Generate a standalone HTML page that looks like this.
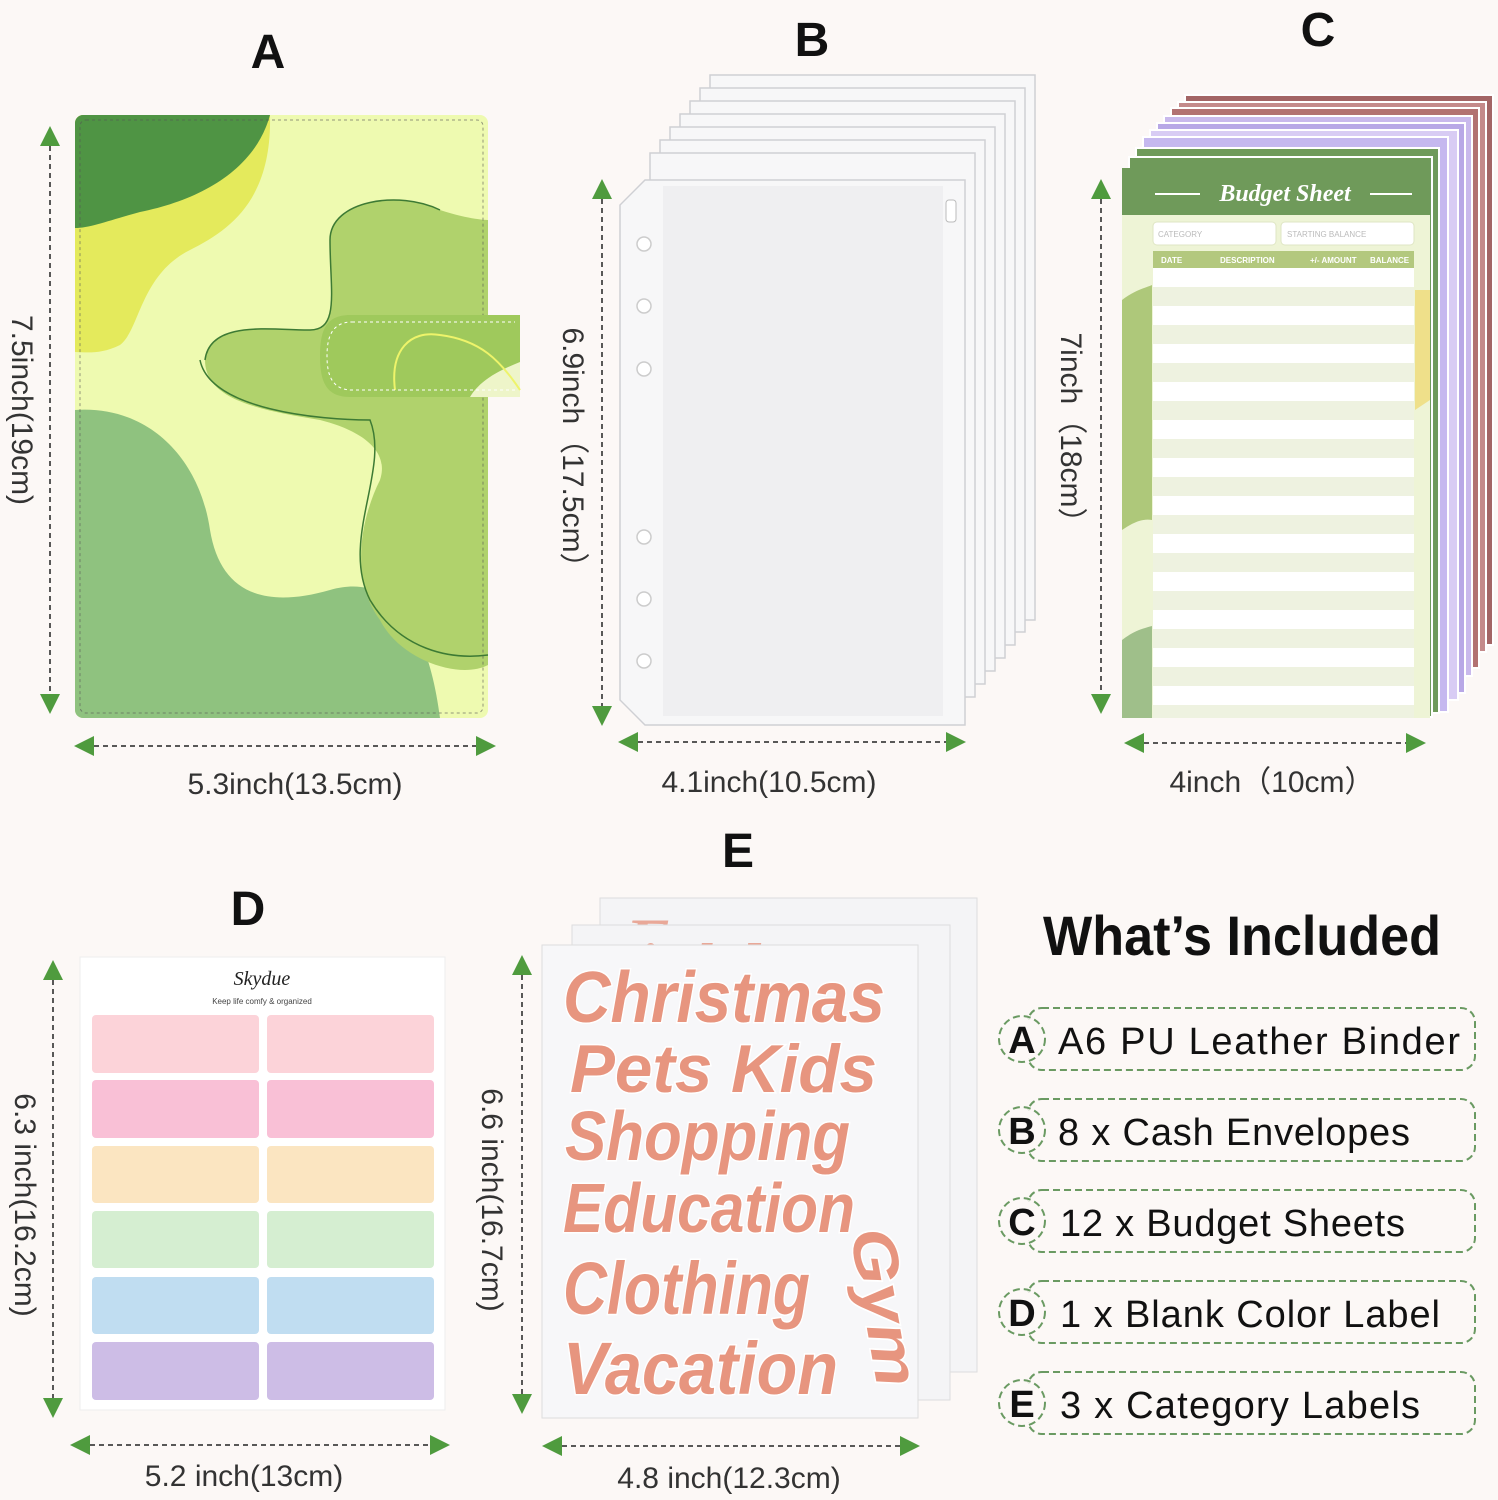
<!DOCTYPE html>
<html><head><meta charset="utf-8"><style>
html,body{margin:0;padding:0;background:#fcf8f6;}
svg{display:block}
text{font-family:"Liberation Sans",sans-serif;}
</style></head><body>
<svg width="1498" height="1500" viewBox="0 0 1498 1500" xmlns="http://www.w3.org/2000/svg">
<defs>
<marker id="ar" viewBox="0 0 10 10" refX="9" refY="5" markerWidth="26" markerHeight="20" markerUnits="userSpaceOnUse" orient="auto-start-reverse"><path d="M0,0 L10,5 L0,10 z" fill="#4f9b3e"/></marker>
<clipPath id="ce1"><rect x="600" y="898" width="377" height="27"/></clipPath>
<clipPath id="ce2"><rect x="572" y="925" width="378" height="20"/></clipPath>
</defs>
<rect width="1498" height="1500" fill="#fcf8f6"/>

<!-- titles -->
<g font-weight="bold" font-size="48" text-anchor="middle" fill="#111">
<text x="268" y="68">A</text><text x="812" y="56">B</text><text x="1318" y="46">C</text>
<text x="248" y="925">D</text><text x="738" y="867">E</text></g>

<!-- A binder -->
<rect x="75" y="115" width="413" height="603" rx="8" fill="#eefab0"/>
<clipPath id="ca"><rect x="75" y="115" width="413" height="603" rx="8"/></clipPath>
<g clip-path="url(#ca)">
<path d="M75,115 L270,115 C272,200 230,230 190,250 C140,275 140,330 120,345 C100,355 85,352 75,352 Z" fill="#e4ea5c"/>
<path d="M75,115 L270,115 C255,170 200,200 140,212 C110,220 90,228 75,228 Z" fill="#4f9444"/>
<path d="M75,410 C150,405 200,460 210,530 C220,590 260,610 330,590 C400,570 430,640 440,718 L75,718 Z" fill="#8fc27f"/>
<path d="M205,360 C210,320 270,330 310,330 C340,330 330,290 330,240 C330,200 400,190 440,210 C470,220 488,220 488,220 L488,665 C460,680 400,660 380,620 C350,580 360,520 380,480 C390,450 360,430 320,420 C260,410 205,400 205,360 Z" fill="#b0d26c"/>
<path d="M205,360 C210,320 270,330 310,330 C340,330 330,290 330,240 C330,200 400,190 440,210" fill="none" stroke="#3d7a34" stroke-width="1.5"/>
<path d="M200,360 C210,410 320,420 370,420 C390,470 340,540 370,600 C400,650 450,660 488,655" fill="none" stroke="#3d7a34" stroke-width="1.5"/>
</g>
<rect x="80" y="120" width="403" height="593" rx="6" fill="none" stroke="#555" stroke-width="1" stroke-dasharray="3,3" opacity="0.6"/>
<path d="M350,315 L520,315 L520,397 L350,397 C325,397 320,380 320,356 C320,332 325,315 350,315 Z" fill="#9fc95c"/>
<path d="M470,397 C480,380 500,370 520,362 L520,397 Z" fill="#eef5c9"/>
<path d="M395,390 C390,350 410,330 440,335 C480,340 500,360 520,390" fill="none" stroke="#eef46a" stroke-width="2"/>
<path d="M352,322 L515,322 M515,390 L352,390 C332,390 327,375 327,356 C327,337 332,322 352,322" fill="none" stroke="#fff" stroke-width="1" stroke-dasharray="3,3"/>

<line x1="50" y1="128" x2="50" y2="712" stroke="#222" stroke-width="1.5" stroke-dasharray="5,4" marker-start="url(#ar)" marker-end="url(#ar)"/>
<line x1="76" y1="746" x2="494" y2="746" stroke="#222" stroke-width="1.5" stroke-dasharray="5,4" marker-start="url(#ar)" marker-end="url(#ar)"/>
<text transform="translate(12,410) rotate(90)" font-size="30" text-anchor="middle" fill="#333">7.5inch(19cm)</text>
<text x="295" y="794" font-size="30" text-anchor="middle" fill="#333">5.3inch(13.5cm)</text>

<!-- B envelopes -->
<g fill="#f7f7f8" stroke="#cfd0d4" stroke-width="1.5">
<path d="M710,75 L1035,75 L1035,620 L710,620 Z"/>
<path d="M700,88 L1025,88 L1025,632 L700,632 Z"/>
<path d="M690,101 L1015,101 L1015,645 L690,645 Z"/>
<path d="M680,114 L1005,114 L1005,658 L680,658 Z"/>
<path d="M670,127 L995,127 L995,671 L670,671 Z"/>
<path d="M660,140 L985,140 L985,684 L660,684 Z"/>
<path d="M650,153 L975,153 L975,697 L650,697 Z"/>
<path d="M645,180 L965,180 L965,725 L645,725 L620,700 L620,205 Z"/>
</g>
<rect x="663" y="186" width="280" height="530" fill="#efeff1"/>
<g fill="#fff" stroke="#ccc" stroke-width="1.5">
<circle cx="644" cy="244" r="7"/><circle cx="644" cy="306" r="7"/><circle cx="644" cy="369" r="7"/>
<circle cx="644" cy="537" r="7"/><circle cx="644" cy="599" r="7"/><circle cx="644" cy="661" r="7"/></g>
<rect x="946" y="200" width="10" height="22" rx="3" fill="#fff" stroke="#bbb"/>
<line x1="602" y1="181" x2="602" y2="724" stroke="#222" stroke-width="1.5" stroke-dasharray="5,4" marker-start="url(#ar)" marker-end="url(#ar)"/>
<line x1="620" y1="742" x2="964" y2="742" stroke="#222" stroke-width="1.5" stroke-dasharray="5,4" marker-start="url(#ar)" marker-end="url(#ar)"/>
<text transform="translate(563,455) rotate(90)" font-size="30" text-anchor="middle" fill="#333">6.9inch（17.5cm）</text>
<text x="769" y="792" font-size="30" text-anchor="middle" fill="#333">4.1inch(10.5cm)</text>

<!-- C budget sheets -->
<g stroke="#fff" stroke-width="2">
<rect x="1185" y="95" width="308" height="550" fill="#a36565"/>
<rect x="1178" y="102" width="308" height="550" fill="#c48a8a"/>
<rect x="1171" y="108" width="308" height="560" fill="#b27272"/>
<rect x="1164" y="116" width="308" height="560" fill="#c9b9ec"/>
<rect x="1157" y="123" width="308" height="570" fill="#b8a8e6"/>
<rect x="1150" y="130" width="308" height="570" fill="#d8ccf4"/>
<rect x="1143" y="137" width="305" height="575" fill="#c5b8ef"/>
<rect x="1136" y="148" width="303" height="565" fill="#6f9a5a"/>
<rect x="1129" y="157" width="303" height="560" fill="#6f9a5a"/>
</g>
<rect x="1122" y="168" width="308" height="550" fill="#eef4d6"/>
<rect x="1122" y="168" width="308" height="47" fill="#6f9a5a"/>
<path d="M1122,300 C1135,290 1145,288 1152,285 L1152,520 C1140,518 1130,525 1122,530 Z" fill="#aec87a"/>
<path d="M1122,640 C1135,630 1145,628 1152,626 L1152,718 L1122,718 Z" fill="#9fbf8a"/>
<path d="M1415,290 L1430,290 L1430,400 L1415,410 Z" fill="#efe08a"/>
<line x1="1155" y1="194" x2="1200" y2="194" stroke="#fff" stroke-width="2"/>
<line x1="1370" y1="194" x2="1412" y2="194" stroke="#fff" stroke-width="2"/>
<text x="1285" y="201" font-family="Liberation Serif,serif" font-style="italic" font-weight="bold" font-size="24" text-anchor="middle" fill="#fff" style="font-family:'Liberation Serif',serif">Budget Sheet</text>
<rect x="1153" y="222" width="123" height="23" rx="4" fill="#fff" stroke="#dfe6c4"/>
<rect x="1281" y="222" width="133" height="23" rx="4" fill="#fff" stroke="#dfe6c4"/>
<text x="1158" y="237" font-size="8" fill="#bbb">CATEGORY</text>
<text x="1287" y="237" font-size="8" fill="#bbb">STARTING BALANCE</text>
<rect x="1153" y="251" width="261" height="17" fill="#b3c87e"/>
<text x="1161" y="263" font-size="8" font-weight="bold" fill="#fff">DATE</text>
<text x="1220" y="263" font-size="8" font-weight="bold" fill="#fff">DESCRIPTION</text>
<text x="1310" y="263" font-size="8" font-weight="bold" fill="#fff">+/- AMOUNT</text>
<text x="1370" y="263" font-size="8" font-weight="bold" fill="#fff">BALANCE</text>
<rect x="1153" y="268" width="261" height="450" fill="#fff"/>
<g fill="#eef2e0">
<rect x="1153" y="287" width="261" height="19"/><rect x="1153" y="325" width="261" height="19"/><rect x="1153" y="363" width="261" height="19"/><rect x="1153" y="401" width="261" height="19"/><rect x="1153" y="439" width="261" height="19"/><rect x="1153" y="477" width="261" height="19"/><rect x="1153" y="515" width="261" height="19"/><rect x="1153" y="553" width="261" height="19"/><rect x="1153" y="591" width="261" height="19"/><rect x="1153" y="629" width="261" height="19"/><rect x="1153" y="667" width="261" height="19"/><rect x="1153" y="705" width="261" height="13"/></g>
<line x1="1101" y1="181" x2="1101" y2="712" stroke="#222" stroke-width="1.5" stroke-dasharray="5,4" marker-start="url(#ar)" marker-end="url(#ar)"/>
<line x1="1126" y1="743" x2="1424" y2="743" stroke="#222" stroke-width="1.5" stroke-dasharray="5,4" marker-start="url(#ar)" marker-end="url(#ar)"/>
<text transform="translate(1061,435) rotate(90)" font-size="30" text-anchor="middle" fill="#333">7inch（18cm）</text>
<text x="1272" y="792" font-size="30" text-anchor="middle" fill="#333">4inch（10cm）</text>

<!-- D labels -->
<rect x="80" y="957" width="365" height="453" fill="#fff" stroke="#eee"/>
<text x="262" y="985" font-style="italic" font-size="20" text-anchor="middle" fill="#222" style="font-family:'Liberation Serif',serif">Skydue</text>
<text x="262" y="1004" font-size="8" text-anchor="middle" fill="#444">Keep life comfy &amp; organized</text>
<g>
<rect x="92" y="1015" width="167" height="58" rx="4" fill="#fcd3d9"/><rect x="267" y="1015" width="167" height="58" rx="4" fill="#fcd3d9"/>
<rect x="92" y="1080" width="167" height="58" rx="4" fill="#f9c0d6"/><rect x="267" y="1080" width="167" height="58" rx="4" fill="#f9c0d6"/>
<rect x="92" y="1146" width="167" height="57" rx="4" fill="#fbe5c1"/><rect x="267" y="1146" width="167" height="57" rx="4" fill="#fbe5c1"/>
<rect x="92" y="1211" width="167" height="57" rx="4" fill="#d5eed1"/><rect x="267" y="1211" width="167" height="57" rx="4" fill="#d5eed1"/>
<rect x="92" y="1277" width="167" height="57" rx="4" fill="#c0ddf1"/><rect x="267" y="1277" width="167" height="57" rx="4" fill="#c0ddf1"/>
<rect x="92" y="1342" width="167" height="58" rx="4" fill="#cdbde6"/><rect x="267" y="1342" width="167" height="58" rx="4" fill="#cdbde6"/>
</g>
<line x1="53" y1="962" x2="53" y2="1416" stroke="#222" stroke-width="1.5" stroke-dasharray="5,4" marker-start="url(#ar)" marker-end="url(#ar)"/>
<line x1="72" y1="1445" x2="448" y2="1445" stroke="#222" stroke-width="1.5" stroke-dasharray="5,4" marker-start="url(#ar)" marker-end="url(#ar)"/>
<text transform="translate(15,1205) rotate(90)" font-size="30" text-anchor="middle" fill="#333">6.3 inch(16.2cm)</text>
<text x="244" y="1486" font-size="30" text-anchor="middle" fill="#333">5.2 inch(13cm)</text>

<!-- E stickers -->
<rect x="600" y="898" width="377" height="474" fill="#f4f4f6" stroke="#ddd"/>
<text x="625" y="960" font-style="italic" font-weight="bold" font-size="60" fill="#e9a898" clip-path="url(#ce1)" textLength="325" lengthAdjust="spacingAndGlyphs" style="font-family:'Liberation Serif',serif">Emergency</text>
<rect x="572" y="925" width="378" height="475" fill="#f4f4f6" stroke="#ddd"/>
<text x="598" y="985" font-style="italic" font-weight="bold" font-size="60" fill="#e9a898" clip-path="url(#ce2)" textLength="220" lengthAdjust="spacingAndGlyphs" style="font-family:'Liberation Serif',serif">Birthday</text>
<rect x="542" y="945" width="376" height="473" fill="#f7f7f9" stroke="#ddd"/>
<g font-style="italic" font-weight="bold" fill="#e7957f" stroke="#fff" stroke-width="3" paint-order="stroke" style="font-family:'Liberation Serif',serif" lengthAdjust="spacingAndGlyphs">
<text x="563" y="1022" font-size="72" textLength="322" lengthAdjust="spacingAndGlyphs">Christmas</text>
<text x="570" y="1092" font-size="68" textLength="307" lengthAdjust="spacingAndGlyphs">Pets Kids</text>
<text x="565" y="1160" font-size="70" textLength="285" lengthAdjust="spacingAndGlyphs">Shopping</text>
<text x="563" y="1232" font-size="70" textLength="292" lengthAdjust="spacingAndGlyphs">Education</text>
<text x="563" y="1314" font-size="74" textLength="247" lengthAdjust="spacingAndGlyphs">Clothing</text>
<text x="563" y="1394" font-size="74" textLength="275" lengthAdjust="spacingAndGlyphs">Vacation</text>
<text transform="translate(850,1232) rotate(80)" font-size="62" textLength="160" lengthAdjust="spacingAndGlyphs">Gym</text>
</g>
<line x1="522" y1="957" x2="522" y2="1412" stroke="#222" stroke-width="1.5" stroke-dasharray="5,4" marker-start="url(#ar)" marker-end="url(#ar)"/>
<line x1="544" y1="1446" x2="918" y2="1446" stroke="#222" stroke-width="1.5" stroke-dasharray="5,4" marker-start="url(#ar)" marker-end="url(#ar)"/>
<text transform="translate(482,1200) rotate(90)" font-size="30" text-anchor="middle" fill="#333">6.6 inch(16.7cm)</text>
<text x="729" y="1488" font-size="30" text-anchor="middle" fill="#333">4.8 inch(12.3cm)</text>

<!-- What's included -->
<text x="1242" y="955" font-size="56" font-weight="bold" text-anchor="middle" fill="#111" textLength="398" lengthAdjust="spacingAndGlyphs">What’s Included</text>
<g fill="none" stroke="#6a9a62" stroke-width="2" stroke-dasharray="7,4">
<rect x="1028" y="1008" width="447" height="62" rx="14"/><circle cx="1022" cy="1039" r="23"/>
<rect x="1028" y="1099" width="447" height="62" rx="14"/><circle cx="1022" cy="1130" r="23"/>
<rect x="1028" y="1190" width="447" height="62" rx="14"/><circle cx="1022" cy="1221" r="23"/>
<rect x="1028" y="1281" width="447" height="62" rx="14"/><circle cx="1022" cy="1312" r="23"/>
<rect x="1028" y="1372" width="447" height="62" rx="14"/><circle cx="1022" cy="1403" r="23"/>
</g>
<g fill="#fcf8f6"><circle cx="1022" cy="1039" r="21"/><circle cx="1022" cy="1130" r="21"/><circle cx="1022" cy="1221" r="21"/><circle cx="1022" cy="1312" r="21"/><circle cx="1022" cy="1403" r="21"/></g>
<g font-size="38" fill="#111">
<text x="1022" y="1053" font-weight="bold" text-anchor="middle">A</text>
<text x="1022" y="1144" font-weight="bold" text-anchor="middle">B</text>
<text x="1022" y="1235" font-weight="bold" text-anchor="middle">C</text>
<text x="1022" y="1326" font-weight="bold" text-anchor="middle">D</text>
<text x="1022" y="1417" font-weight="bold" text-anchor="middle">E</text>
<text x="1058" y="1054" textLength="402">A6 PU  Leather Binder</text>
<text x="1058" y="1145" textLength="352">8 x  Cash Envelopes</text>
<text x="1060" y="1236" textLength="345">12 x Budget Sheets</text>
<text x="1060" y="1327" textLength="380">1 x Blank Color Label</text>
<text x="1060" y="1418" textLength="360">3 x  Category Labels</text>
</g>
</svg>
</body></html>
